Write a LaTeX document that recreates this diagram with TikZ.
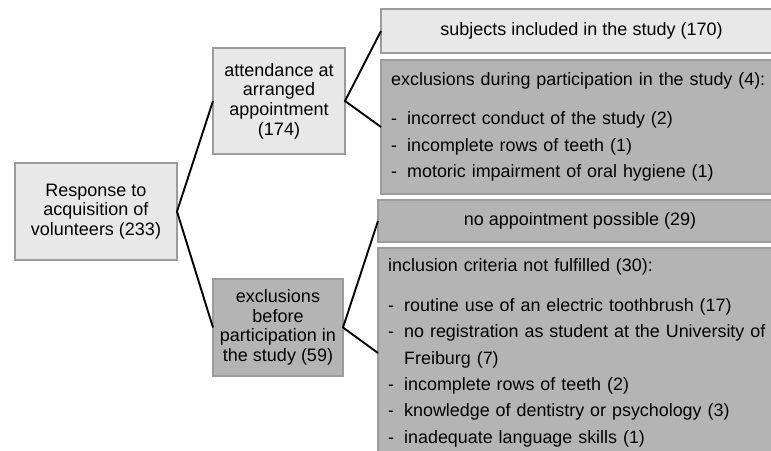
\documentclass[tikz,border=0pt]{standalone}
\usepackage{fontspec}
\setmainfont{Liberation Sans}
\definecolor{lightfill}{HTML}{E8E8E8}
\definecolor{darkfill}{HTML}{B4B4B4}
\definecolor{boxline}{HTML}{9C9C9C}
\begin{document}
\begin{tikzpicture}[x=1pt,y=1pt,
  box/.style={draw=boxline, line width=1.2pt, inner sep=0pt, outer sep=0pt},
  lightbox/.style={box, fill=lightfill},
  darkbox/.style={box, fill=darkfill},
  ctext/.style={align=center, font=\fontsize{18}{19.6}\selectfont, inner sep=0pt},
  ltext/.style={align=left, text width=400pt, font=\fontsize{17.9}{26.4}\selectfont, inner sep=0pt, anchor=west},
  conn/.style={line width=1.9pt, black}
]
\clip (0,0) rectangle (771,450);
\fill[white] (0,0) rectangle (771,450);

% left column
\node[lightbox, minimum width=162pt, minimum height=97pt] (root) at (96,238.5) {};
\node[ctext] (roottxt) at (root.center) {Response to\\acquisition of\\volunteers (233)};

\node[lightbox, minimum width=132pt, minimum height=106pt] (attend) at (279,349) {};
\node[ctext] (attendtxt) at (attend.center) {attendance at\\arranged\\appointment\\(174)};

\node[darkbox, minimum width=130pt, minimum height=97pt] (before) at (278,122.5) {};
\node[ctext] (beforetxt) at (before.center) {exclusions\\before\\participation in\\the study (59)};

% right column
\node[lightbox, minimum width=401pt, minimum height=44pt, anchor=west] (subjects) at (381,419) {};
\node[ctext] (subjectstxt) at (subjects.center) {subjects included in the study (170)};

\node[darkbox, minimum width=401pt, minimum height=134pt, anchor=west] (during) at (381,323) {};
\node[ltext] (duringtxt) at ([xshift=10pt]during.west) {%
exclusions during participation in the study (4):\par\vspace{13pt}%
\hangindent=16pt\hangafter=1\makebox[16pt][l]{-}incorrect conduct of the study (2)\par
\hangindent=16pt\hangafter=1\makebox[16pt][l]{-}incomplete rows of teeth (1)\par
\hangindent=16pt\hangafter=1\makebox[16pt][l]{-}motoric impairment of oral hygiene (1)};

\node[darkbox, minimum width=404pt, minimum height=42pt, anchor=west] (noappt) at (378,229) {};
\node[ctext] (noappttxt) at (noappt.center) {no appointment possible (29)};

\node[darkbox, minimum width=404pt, minimum height=210pt, anchor=west] (incl) at (378,97) {};
\node[ltext] (incltxt) at ([xshift=10pt]incl.west) {%
inclusion criteria not fulfilled (30):\par\vspace{13pt}%
\hangindent=16pt\hangafter=1\makebox[16pt][l]{-}routine use of an electric toothbrush (17)\par
\hangindent=16pt\hangafter=1\makebox[16pt][l]{-}no registration as student at the University of\newline Freiburg (7)\par
\hangindent=16pt\hangafter=1\makebox[16pt][l]{-}incomplete rows of teeth (2)\par
\hangindent=16pt\hangafter=1\makebox[16pt][l]{-}knowledge of dentistry or psychology (3)\par
\hangindent=16pt\hangafter=1\makebox[16pt][l]{-}inadequate language skills (1)};

% connectors
\draw[conn] (attend.west) -- (root.east) -- (before.west);
\draw[conn] (subjects.west) -- (attend.east) -- (during.west);
\draw[conn] (noappt.west) -- (before.east) -- (incl.west);
\end{tikzpicture}
\end{document}
